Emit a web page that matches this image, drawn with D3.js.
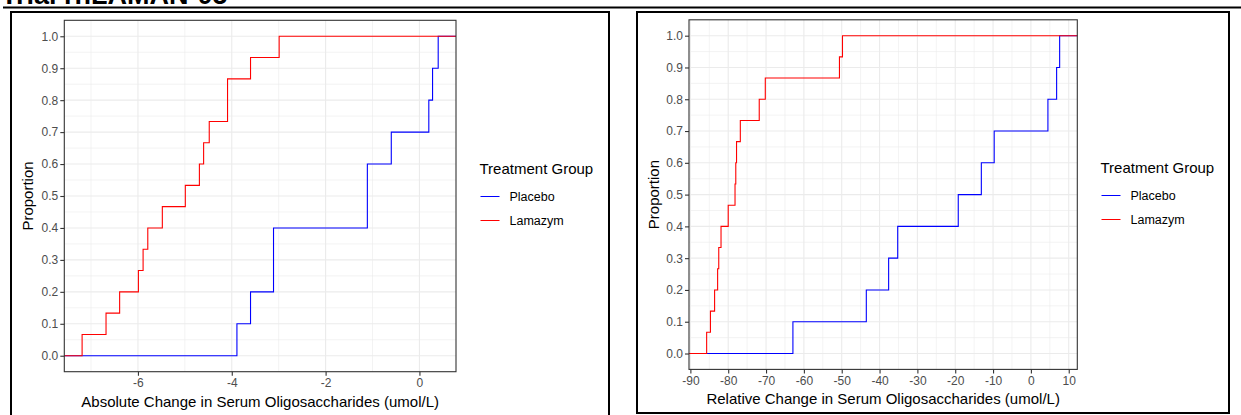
<!DOCTYPE html>
<html>
<head>
<meta charset="utf-8">
<script src="https://cdn.jsdelivr.net/npm/d3@7"></script>
<style>
  body { margin: 0; background: #fff; }
  svg { display: block; font-family: "Liberation Sans", Arial, sans-serif; }
</style>
</head>
<body>
<svg id="chart"></svg>
<script>
const width = 1241, height = 415;

// treatment groups, in legend order
const groups = ['Placebo', 'Lamazym'];
const groupColors = ['#0000ff', '#ff0000'];

// absolute change in serum oligosaccharides (umol/L), one value per subject
const placeboAbs = [-3.89, -3.60, -3.11, -3.11, -1.11, -1.11, -0.60, 0.20, 0.28, 0.40];
const lamazymAbs = [-7.19, -6.68, -6.39, -5.99, -5.89, -5.79, -5.48, -4.99, -4.69, -4.60, -4.48, -4.09, -4.09, -3.60, -2.99];

// relative change (%), one value per subject
const placeboRel = [-62.9, -43.5, -37.6, -35.2, -19.2, -13.1, -9.7, 4.5, 6.8, 7.6];
const lamazymRel = [-85.7, -84.7, -83.6, -82.8, -82.5, -81.9, -80.0, -78.2, -78.0, -77.8, -76.8, -71.8, -70.2, -50.6, -49.8];

const yTicks = [0, 0.1, 0.2, 0.3, 0.4, 0.5, 0.6, 0.7, 0.8, 0.9, 1.0];
const xTicksAbs = [-6, -4, -2, 0];
const xTicksRel = [-90, -80, -70, -60, -50, -40, -30, -20, -10, 0, 10];

const svg = d3.select('#chart')
    .attr('width', width)
    .attr('height', height);

// page header, mostly cut off above the picture (as in the source)
svg.append('text')
    .attr('x', 1).attr('y', 4)
    .attr('font-size', 27).attr('font-weight', 'bold')
    .text('Trial rhLAMAN-05');
svg.append('line')
    .attr('x1', 3).attr('x2', width).attr('y1', 7.5).attr('y2', 7.5)
    .attr('stroke', '#000').attr('stroke-width', 2);

// ecdf points padded out to the panel edges, like stat_ecdf
function ecdf(values, lo, hi) {
    const v = values.slice().sort(d3.ascending);
    const pts = [[lo, 0]];
    d3.groups(v, d => d).forEach(([x]) => {
        pts.push([x, d3.bisectRight(v, x) / v.length]);
    });
    pts.push([hi, 1]);
    return pts;
}

function drawPanel(o) {
    const box = svg.append('g');
    box.append('rect')
        .attr('x', o.box[0]).attr('y', o.box[1])
        .attr('width', o.box[2]).attr('height', o.box[3])
        .attr('fill', 'none').attr('stroke', '#000').attr('stroke-width', 2);

    const all = o.series.flat();
    const ext = d3.extent(all);
    const pad = (ext[1] - ext[0]) * 0.05;
    const x = d3.scaleLinear().domain([ext[0] - pad, ext[1] + pad]).range([o.left, o.right]);
    const y = d3.scaleLinear().domain([-0.05, 1.05]).range([o.bottom, o.top]);

    const g = svg.append('g');

    // minor grid halfway between the breaks
    const xMinor = o.xTicks.slice(0, -1).map((t, i) => (t + o.xTicks[i + 1]) / 2);
    const step = o.xTicks[1] - o.xTicks[0];
    if (o.xTicks[0] - step / 2 > x.domain()[0]) xMinor.unshift(o.xTicks[0] - step / 2);
    if (o.xTicks[o.xTicks.length - 1] + step / 2 < x.domain()[1]) xMinor.push(o.xTicks[o.xTicks.length - 1] + step / 2);
    const yMinor = yTicks.slice(0, -1).map((t, i) => (t + yTicks[i + 1]) / 2);

    g.selectAll('.xminor').data(xMinor).enter().append('line')
        .attr('x1', d => x(d)).attr('x2', d => x(d)).attr('y1', o.top).attr('y2', o.bottom)
        .attr('stroke', '#ebebeb').attr('stroke-width', 0.6);
    g.selectAll('.yminor').data(yMinor).enter().append('line')
        .attr('x1', o.left).attr('x2', o.right).attr('y1', d => y(d)).attr('y2', d => y(d))
        .attr('stroke', '#ebebeb').attr('stroke-width', 0.6);
    g.selectAll('.xmajor').data(o.xTicks).enter().append('line')
        .attr('x1', d => x(d)).attr('x2', d => x(d)).attr('y1', o.top).attr('y2', o.bottom)
        .attr('stroke', '#ebebeb').attr('stroke-width', 1.1);
    g.selectAll('.ymajor').data(yTicks).enter().append('line')
        .attr('x1', o.left).attr('x2', o.right).attr('y1', d => y(d)).attr('y2', d => y(d))
        .attr('stroke', '#ebebeb').attr('stroke-width', 1.1);

    const line = d3.line().x(d => x(d[0])).y(d => y(d[1])).curve(d3.curveStepAfter);
    o.series.forEach((s, i) => {
        g.append('path')
            .attr('d', line(ecdf(s, x.domain()[0], x.domain()[1])))
            .attr('fill', 'none')
            .attr('stroke', groupColors[i])
            .attr('stroke-width', 1.1);
    });

    g.append('rect')
        .attr('x', o.left).attr('y', o.top)
        .attr('width', o.right - o.left).attr('height', o.bottom - o.top)
        .attr('fill', 'none').attr('stroke', '#333').attr('stroke-width', 1.1);

    const xAxis = g.append('g')
        .attr('transform', `translate(0,${o.bottom})`)
        .call(d3.axisBottom(x).tickValues(o.xTicks).tickSize(4).tickPadding(3).tickFormat(d3.format('d')));
    const yAxis = g.append('g')
        .attr('transform', `translate(${o.left},0)`)
        .call(d3.axisLeft(y).tickValues(yTicks).tickSize(4).tickPadding(2).tickFormat(d3.format('.1f')));
    [xAxis, yAxis].forEach(a => {
        a.select('.domain').remove();
        a.selectAll('line').attr('stroke', '#333').attr('stroke-width', 1.1);
        a.selectAll('text').attr('fill', '#4d4d4d').attr('font-size', 12)
            .attr('font-family', '"Liberation Sans", Arial, sans-serif');
    });
    // d3 uses a minus sign; ggplot prints a hyphen
    xAxis.selectAll('text').text(d => String(d));

    g.append('text')
        .attr('x', (o.left + o.right) / 2).attr('y', o.xTitleY)
        .attr('text-anchor', 'middle').attr('font-size', 15)
        .text(o.xTitle);
    g.append('text')
        .attr('transform', `translate(${o.yTitleX},${(o.top + o.bottom) / 2}) rotate(-90)`)
        .attr('text-anchor', 'middle').attr('font-size', 15)
        .text('Proportion');

    // legend
    const lg = g.append('g').attr('transform', `translate(${o.legend[0]},${o.legend[1]})`);
    lg.append('text').attr('x', 0).attr('y', 0).attr('font-size', 15).text('Treatment Group');
    groups.forEach((name, i) => {
        const ky = 22.5 + i * 24;
        lg.append('line')
            .attr('x1', 1).attr('x2', 20).attr('y1', ky).attr('y2', ky)
            .attr('stroke', groupColors[i]).attr('stroke-width', 1);
        lg.append('text')
            .attr('x', 30).attr('y', ky + 4.5)
            .attr('font-size', 12.5).text(name);
    });
}

drawPanel({
    box: [11, 12, 598, 410],
    left: 64.3, right: 456, top: 20.3, bottom: 371.7,
    series: [placeboAbs, lamazymAbs],
    xTicks: xTicksAbs,
    xTitle: 'Absolute Change in Serum Oligosaccharides (umol/L)',
    xTitleY: 407, yTitleX: 33,
    legend: [479.5, 174]
});

drawPanel({
    box: [637, 12, 592, 401],
    left: 689, right: 1077.3, top: 19.8, bottom: 369.4,
    series: [placeboRel, lamazymRel],
    xTicks: xTicksRel,
    xTitle: 'Relative Change in Serum Oligosaccharides (umol/L)',
    xTitleY: 404, yTitleX: 659,
    legend: [1100.5, 173]
});
</script>
</body>
</html>
